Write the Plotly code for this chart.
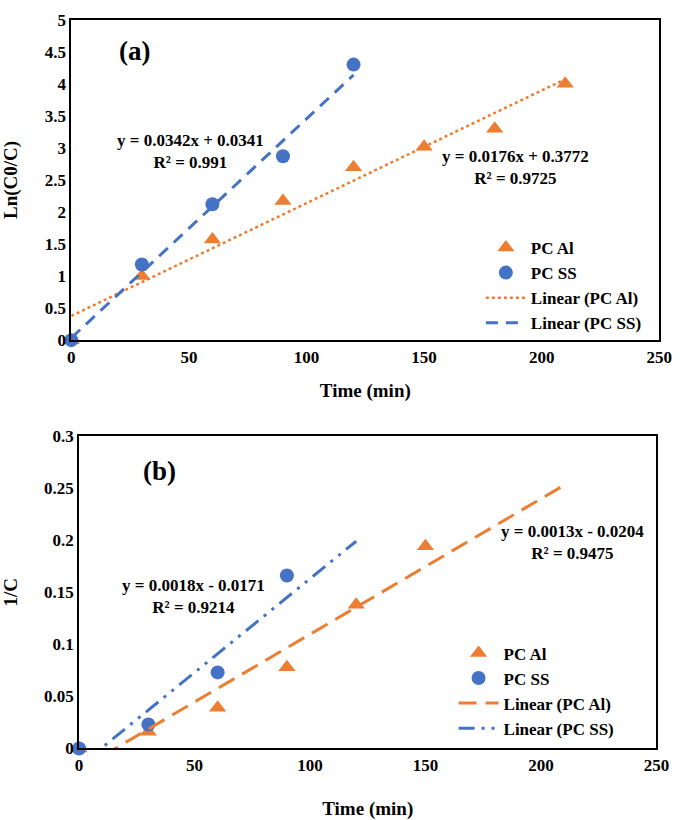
import plotly.graph_objects as go

# ---------------- data ----------------
time_al_a = [0, 30, 60, 90, 120, 150, 180, 210]
lnc_al = [0, 1.0, 1.57, 2.17, 2.7, 3.02, 3.3, 4.0]
time_ss_a = [0, 30, 60, 90, 120]
lnc_ss = [0, 1.18, 2.12, 2.87, 4.3]

time_al_b = [0, 30, 60, 90, 120, 150]
invc_al = [0, 0.016, 0.039, 0.078, 0.138, 0.194]
time_ss_b = [0, 30, 60, 90]
invc_ss = [0, 0.023, 0.073, 0.166]

# trendlines: slope, intercept, x-span
fit_a_al = (0.0176, 0.3772, [0, 210])
fit_a_ss = (0.0342, 0.0341, [0, 120])
fit_b_al = (0.0013, -0.0204, [0, 210])
fit_b_ss = (0.0018, -0.0171, [0, 120])

eq_a_ss = ["y = 0.0342x + 0.0341", "R² = 0.991"]
eq_a_al = ["y = 0.0176x + 0.3772", "R² = 0.9725"]
eq_b_ss = ["y = 0.0018x - 0.0171", "R² = 0.9214"]
eq_b_al = ["y = 0.0013x - 0.0204", "R² = 0.9475"]

ORANGE = "#ED7D31"
BLUE = "#4472C4"
FONT = "Liberation Serif"

def line_pts(fit):
    m, c, xs = fit
    return xs, [m * x + c for x in xs]

fig = go.Figure()

# ---- panel (a) ----
fig.add_trace(go.Scatter(x=time_al_a, y=lnc_al, mode="markers", name="PC Al",
                         marker=dict(symbol="triangle-up", size=15, color=ORANGE),
                         cliponaxis=False, xaxis="x", yaxis="y", legend="legend"))
fig.add_trace(go.Scatter(x=time_ss_a, y=lnc_ss, mode="markers", name="PC SS",
                         marker=dict(symbol="circle", size=14, color=BLUE),
                         cliponaxis=False, xaxis="x", yaxis="y", legend="legend"))
xs, ys = line_pts(fit_a_al)
fig.add_trace(go.Scatter(x=xs, y=ys, mode="lines", name="Linear (PC Al)",
                         line=dict(color=ORANGE, width=2.5, dash="dot"),
                         xaxis="x", yaxis="y", legend="legend"))
xs, ys = line_pts(fit_a_ss)
fig.add_trace(go.Scatter(x=xs, y=ys, mode="lines", name="Linear (PC SS)",
                         line=dict(color=BLUE, width=3, dash="12px,8px"),
                         xaxis="x", yaxis="y", legend="legend"))

# ---- panel (b) ----
fig.add_trace(go.Scatter(x=time_al_b, y=invc_al, mode="markers", name="PC Al",
                         marker=dict(symbol="triangle-up", size=15, color=ORANGE),
                         cliponaxis=False, xaxis="x2", yaxis="y2", legend="legend2"))
fig.add_trace(go.Scatter(x=time_ss_b, y=invc_ss, mode="markers", name="PC SS",
                         marker=dict(symbol="circle", size=14, color=BLUE),
                         cliponaxis=False, xaxis="x2", yaxis="y2", legend="legend2"))
xs, ys = line_pts(fit_b_al)
fig.add_trace(go.Scatter(x=xs, y=ys, mode="lines", name="Linear (PC Al)",
                         line=dict(color=ORANGE, width=3, dash="18px,9px"),
                         xaxis="x2", yaxis="y2", legend="legend2"))
xs, ys = line_pts(fit_b_ss)
fig.add_trace(go.Scatter(x=xs, y=ys, mode="lines", name="Linear (PC SS)",
                         line=dict(color=BLUE, width=3, dash="16px,7px,3px,7px,3px,7px"),
                         xaxis="x2", yaxis="y2", legend="legend2"))

W, H = 685, 820
tickfont = dict(family=FONT, size=17, color="black", weight="bold")
titlefont = dict(family=FONT, size=19, color="black", weight="bold")

def ax(dom, rng, dtick, title=None, standoff=None):
    d = dict(domain=dom, range=rng, dtick=dtick, showgrid=False, zeroline=False,
             showline=True, linecolor="black", linewidth=2, mirror=True,
             ticks="", tickfont=tickfont)
    if title:
        d["title"] = dict(text=title, font=titlefont, standoff=standoff)
    return d

legfont = dict(family=FONT, size=17, color="black", weight="bold")

fig.update_layout(
    width=W, height=H,
    margin=dict(l=0, r=0, t=0, b=0),
    paper_bgcolor="white", plot_bgcolor="white",
    font=dict(family=FONT, color="black"),
    xaxis=dict(**ax([69 / W, 672 / W], [0, 250], 50, "Time (min)", 18), anchor="y",
               tickformat="d"),
    yaxis=dict(**ax([1 - 339 / H, 1 - 11 / H], [0, 5], 0.5, "Ln(C0/C)", 22), anchor="x"),
    xaxis2=dict(**ax([77 / W, 669 / W], [0, 250], 50, "Time (min)", 28), anchor="y2"),
    yaxis2=dict(**ax([1 - 757 / H, 1 - 437 / H], [0, 0.3], 0.05, "1/C", 22), anchor="x2"),
    legend=dict(x=489 / W, y=1 - 283 / H, xanchor="left", yanchor="middle",
                bgcolor="rgba(0,0,0,0)", font=legfont, tracegroupgap=0, itemwidth=40),
    legend2=dict(x=461 / W, y=1 - 698 / H, xanchor="left", yanchor="middle",
                 bgcolor="rgba(0,0,0,0)", font=legfont, tracegroupgap=0, itemwidth=40),
    showlegend=True,
)

ann_font = dict(family=FONT, size=17, color="black", weight="bold")
big_font = dict(family=FONT, size=27, color="black", weight="bold")

def eq(lines, x, y, xr, yr):
    fig.add_annotation(x=x, y=y, xref=xr, yref=yr, text="<br>".join(lines),
                       showarrow=False, font=ann_font)

fig.add_annotation(x=27, y=4.51, xref="x", yref="y", text="(a)", showarrow=False, font=big_font)
eq(eq_a_ss, 50.6, 2.95, "x", "y")
eq(eq_a_al, 189, 2.69, "x", "y")
fig.add_annotation(x=34.8, y=0.266, xref="x2", yref="y2", text="(b)", showarrow=False, font=big_font)
eq(eq_b_ss, 49.7, 0.1458, "x2", "y2")
eq(eq_b_al, 213.7, 0.1973, "x2", "y2")

fig.write_html("out.html", post_script="document.body.style.margin='0';",
               config={"displayModeBar": False})
